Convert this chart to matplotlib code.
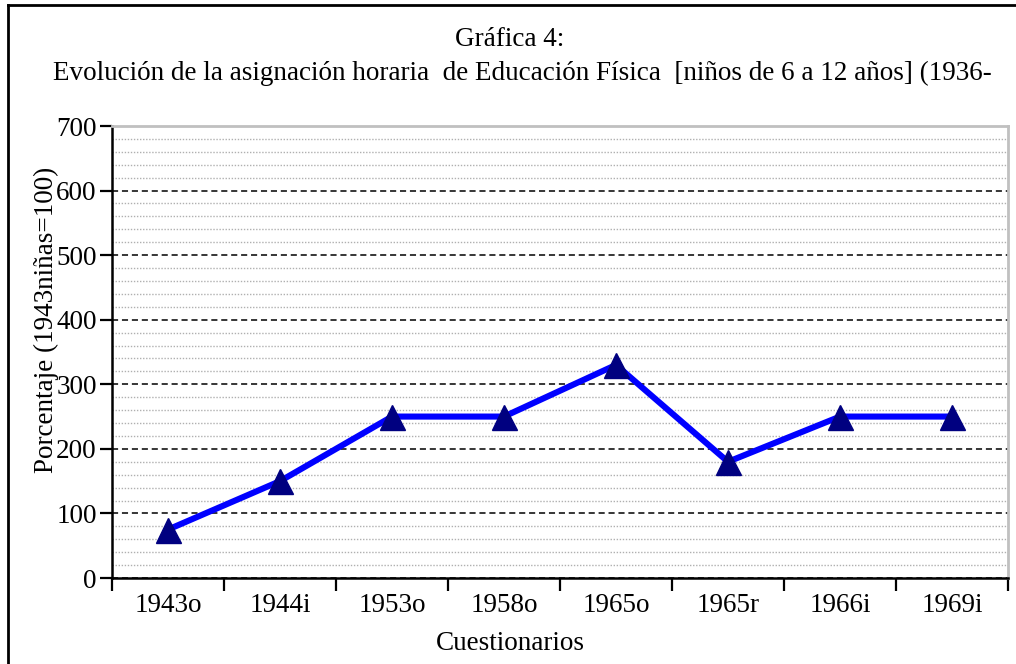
"""Gráfica 4: asignación horaria de Educación Física (línea con triángulos)."""

import matplotlib.pyplot as plt
from matplotlib.lines import Line2D
from matplotlib.ticker import FixedLocator, MultipleLocator, NullFormatter
import numpy as np

cuestionarios = ["1943o", "1944i", "1953o", "1958o", "1965o", "1965r", "1966i", "1969i"]
porcentaje = [75, 150, 250, 250, 330, 180, 250, 250]

title_1 = "Gráfica 4:"
title_2 = "Evolución de la asignación horaria  de Educación Física  [niños de 6 a 12 años] (1936-"
x_label = "Cuestionarios"
y_label = "Porcentaje (1943niñas=100)"

plt.rcParams["font.family"] = ["Liberation Serif", "DejaVu Serif"]

W, H = 1016, 664
fig = plt.figure(figsize=(W / 100, H / 100), dpi=100)
ax = fig.add_axes([112 / W, 1 - 578 / H, (1008 - 112) / W, (578 - 126) / H])

x = np.arange(len(cuestionarios))
ax.plot(x, porcentaje, color="#0000FF", lw=4.4, zorder=3)
ax.plot(x, porcentaje, ls="none", marker="^", ms=18, color="#000080", zorder=4)

ax.set_xlim(-0.5, len(cuestionarios) - 0.5)
ax.set_ylim(0, 700)

# ticks between categories, labels centered on categories
ax.xaxis.set_major_locator(FixedLocator(np.arange(len(cuestionarios) + 1) - 0.5))
ax.xaxis.set_major_formatter(NullFormatter())
ax.xaxis.set_minor_locator(FixedLocator(x))
ax.set_xticklabels(cuestionarios, minor=True)
ax.tick_params(axis="x", which="major", direction="out", length=9, width=1.6)
ax.tick_params(axis="x", which="minor", length=0, pad=11, labelsize=19.5)

ax.yaxis.set_major_locator(MultipleLocator(100))
ax.yaxis.set_minor_locator(MultipleLocator(20))
ax.tick_params(axis="y", which="major", direction="out", length=9, width=1.6, labelsize=19.5, pad=2)
ax.tick_params(axis="y", which="minor", length=0)

ax.grid(axis="y", which="major", color="black", ls=(0, (4, 2.5)), lw=1.1, zorder=1)
ax.grid(axis="y", which="minor", color="#b0b0b0", ls=(0, (1, 1.2)), lw=1.0, zorder=0)
ax.set_axisbelow(True)

for side in ("left", "bottom"):
    ax.spines[side].set_linewidth(1.8)
    ax.spines[side].set_color("black")
for side in ("top", "right"):
    ax.spines[side].set_linewidth(2.0)
    ax.spines[side].set_color("#c0c0c0")

fig.text(510 / W, 1 - 40 / H, title_1, ha="center", va="center", fontsize=19.5)
fig.text(522 / W, 1 - 73 / H, title_2, ha="center", va="center", fontsize=19.5)
fig.text(510 / W, 1 - 643 / H, x_label, ha="center", va="center", fontsize=19.5)
fig.text(46 / W, 1 - 320 / H, y_label, ha="center", va="center", fontsize=19.5, rotation=90)

# outer frame (left and top edges)
fig.add_artist(Line2D([8 / W, 8 / W], [0, 1 - 5 / H], color="black", lw=2.0, transform=fig.transFigure))
fig.add_artist(Line2D([8 / W, 1], [1 - 5 / H, 1 - 5 / H], color="black", lw=2.0, transform=fig.transFigure))

fig.savefig("out.png", dpi=100)
